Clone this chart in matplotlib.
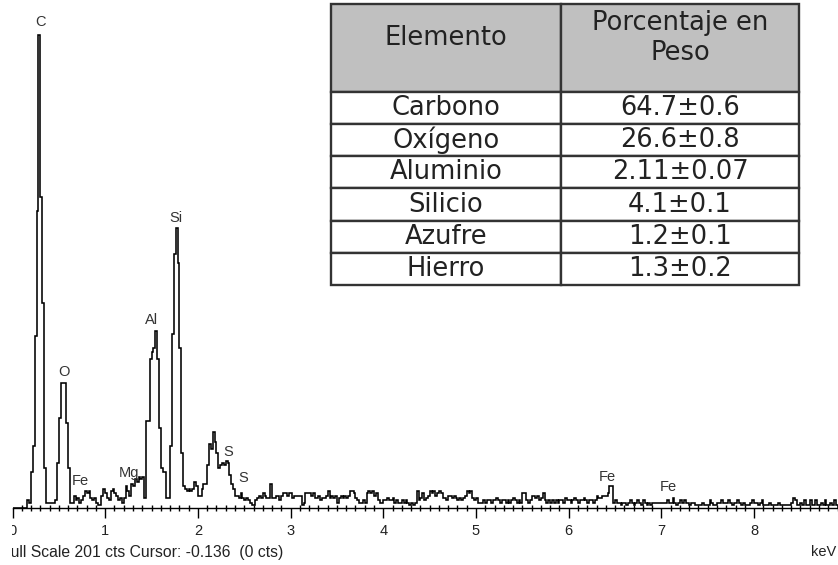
import numpy as np
import matplotlib.pyplot as plt
from matplotlib.patches import Rectangle
from matplotlib.ticker import MultipleLocator

# EDS spectrum, counts per 0.02 keV channel starting at 0 keV
channel_kev = 0.02
counts = [
    0, 0, 0, 0, 0, 0, 0, 0, 3, 2,
    15, 26, 73, 126, 201, 132, 87, 17, 2, 2,
    2, 2, 2, 3, 19, 38, 53, 53, 53, 36,
    17, 2, 2, 5, 3, 4, 2, 3, 5, 7,
    6, 7, 4, 3, 4, 2, 1, 1, 5, 8,
    6, 4, 3, 7, 8, 6, 5, 3, 4, 2,
    4, 9, 7, 5, 10, 9, 12, 11, 13, 12,
    13, 4, 37, 37, 63, 66, 68, 75, 63, 34,
    17, 15, 15, 4, 4, 26, 74, 108, 119, 104,
    68, 23, 9, 8, 7, 8, 7, 8, 11, 9,
    5, 5, 8, 10, 10, 18, 27, 25, 32, 28,
    23, 17, 18, 19, 18, 20, 19, 14, 10, 8,
    5, 5, 4, 6, 4, 3, 4, 3, 2, 1,
    1, 3, 4, 5, 4, 6, 5, 4, 4, 10,
    4, 4, 5, 5, 3, 5, 6, 6, 5, 6,
    6, 4, 5, 5, 5, 5, 1, 2, 6, 6,
    6, 5, 6, 4, 4, 5, 3, 4, 4, 5,
    7, 4, 5, 4, 5, 2, 4, 5, 4, 5,
    4, 5, 7, 7, 6, 4, 3, 2, 2, 3,
    2, 6, 7, 6, 7, 5, 6, 3, 2, 2,
    3, 3, 4, 3, 3, 4, 2, 3, 2, 2,
    3, 2, 3, 2, 1, 2, 1, 2, 7, 3,
    4, 6, 3, 4, 5, 7, 6, 7, 5, 6,
    7, 6, 4, 4, 3, 5, 5, 4, 5, 4,
    3, 4, 3, 4, 5, 7, 6, 7, 4, 3,
    4, 2, 2, 2, 3, 2, 3, 3, 2, 3,
    3, 4, 3, 2, 3, 3, 2, 3, 2, 3,
    4, 3, 2, 3, 2, 6, 6, 3, 2, 3,
    5, 5, 4, 5, 3, 4, 6, 3, 2, 3,
    2, 3, 2, 3, 2, 3, 3, 2, 4, 3,
    3, 2, 3, 4, 3, 2, 3, 3, 4, 3,
    2, 3, 3, 2, 3, 5, 4, 4, 5, 5,
    5, 6, 9, 9, 2, 3, 2, 2, 1, 2,
    2, 1, 2, 3, 2, 1, 2, 3, 2, 1,
    3, 2, 1, 2, 1, 2, 2, 2, 2, 2,
    2, 2, 2, 3, 2, 2, 4, 2, 1, 2,
    3, 2, 3, 2, 2, 1, 2, 2, 1, 1,
    1, 1, 2, 1, 1, 1, 3, 2, 1, 1,
    2, 2, 3, 2, 2, 2, 3, 2, 1, 2,
    2, 3, 2, 1, 2, 1, 1, 1, 2, 3,
    2, 2, 1, 2, 3, 1, 1, 1, 2, 1,
    1, 1, 1, 2, 1, 1, 1, 1, 1, 1,
    2, 4, 3, 1, 1, 2, 1, 3, 1, 1,
    3, 1, 1, 3, 1, 1, 2, 1, 3, 1,
    1, 2, 1, 3, 1,
]

# peak labels: element, energy (keV), height of label (cts)
peak_names = ['C', 'O', 'Fe', 'Mg', 'Al', 'Si', 'S', 'S', 'Fe', 'Fe']
peak_kev = [0.297, 0.556, 0.728, 1.257, 1.505, 1.764, 2.325, 2.486, 6.42, 7.07]
peak_cts = [206.6, 57.7, 11.3, 14.7, 79.8, 123.0, 23.6, 12.5, 13.0, 8.7]

# table of weight percentages
headers = ['Elemento', 'Porcentaje en\nPeso']
elements = ['Carbono', 'Oxígeno', 'Aluminio', 'Silicio', 'Azufre', 'Hierro']
weights = ['64.7±0.6', '26.6±0.8', '2.11±0.07', '4.1±0.1', '1.2±0.1', '1.3±0.2']

W, H = 838, 565
fig = plt.figure(figsize=(W / 100, H / 100), dpi=100)

base_px = 507.5
px_per_kev = 92.7
px_per_ct = 2.35
x0 = -12.5 / px_per_kev
x1 = (W - 12.5) / px_per_kev

ax = fig.add_axes([0, (H - base_px) / H, 1, base_px / H])
edges = np.arange(len(counts) + 1) * channel_kev
ax.stairs(counts, edges, color='black', linewidth=1.15)
ax.set_xlim(x0, x1)
ax.set_ylim(0, base_px / px_per_ct)

for s in ['top', 'left', 'right']:
    ax.spines[s].set_visible(False)
ax.spines['bottom'].set_bounds(0, x1)
ax.spines['bottom'].set_linewidth(1.0)
ax.set_yticks([])
ax.xaxis.set_major_locator(MultipleLocator(1))
ax.xaxis.set_minor_locator(MultipleLocator(0.1))
ax.tick_params(axis='x', which='major', direction='out', length=7, width=1,
               pad=5, labelsize=10.5, labelcolor='#222')
ax.tick_params(axis='x', which='minor', direction='inout', length=5, width=1)
for lab in ax.get_xticklabels():
    lab.set_fontfamily('Liberation Sans')

for name, e, c in zip(peak_names, peak_kev, peak_cts):
    ax.text(e, c, name, ha='center', va='center', fontsize=10.5,
            family='Liberation Sans', color='#333')

fig.text(1 / W, 1 - 552 / H, 'Full Scale 201 cts Cursor: -0.136  (0 cts)',
         ha='left', va='center', fontsize=11.3, family='Liberation Sans', color='#222')
fig.text(836 / W, 1 - 552 / H, 'keV', ha='right', va='center', fontsize=10.5,
         family='Liberation Sans', color='#222')

# left edge of the screenshot was cut off
fig.add_artist(Rectangle((0, 0), 12 / W, 1, transform=fig.transFigure,
                         facecolor='white', edgecolor='none', zorder=20))

# table
tl, tr, tt, tb = 331, 799, 4, 285
tax = fig.add_axes([tl / W, 1 - tb / H, (tr - tl) / W, (tb - tt) / H])
tax.set_xlim(0, tr - tl)
tax.set_ylim(tb - tt, 0)
tax.axis('off')
tax.patch.set_facecolor('white')

table = tax.table(cellText=[list(r) for r in zip(elements, weights)],
                  colLabels=['', ''], colWidths=[230, 238],
                  cellLoc='center', bbox=[0, 0, 1, 1])
table.auto_set_font_size(False)
table.set_fontsize(18.5)
row_h = table[1, 0].get_height()
for (r, c), cell in table.get_celld().items():
    cell.set_edgecolor('#333')
    cell.set_linewidth(1.7)
    cell.get_text().set_color('#222')
    cell.get_text().set_fontfamily('DejaVu Sans')
    if r == 0:
        cell.set_height(row_h * 88 / 32.2)
        cell.set_facecolor('#c0c0c0')

tax.text(115, 34, headers[0], ha='center', va='center', fontsize=18.5,
         family='DejaVu Sans', color='#222')
tax.text(349, 34, headers[1], ha='center', va='center', fontsize=18.5,
         family='DejaVu Sans', color='#222', linespacing=1.2)

fig.savefig('out.png', dpi=100, facecolor='white')
